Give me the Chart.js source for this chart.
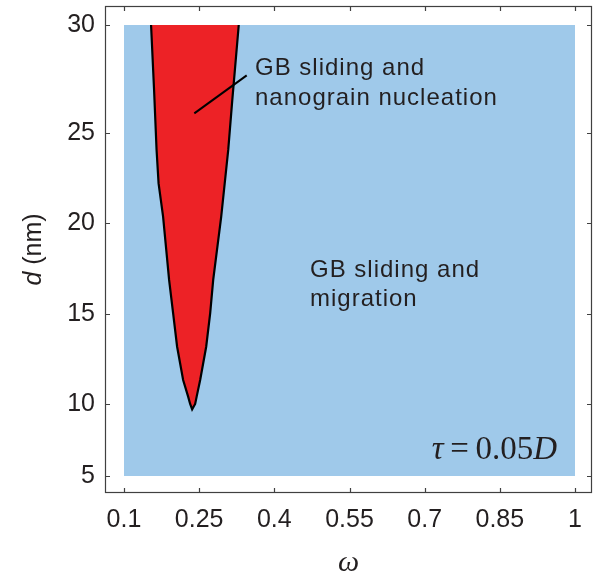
<!DOCTYPE html>
<html>
<head>
<meta charset="utf-8">
<script src="https://cdn.jsdelivr.net/npm/chart.js@4.4.1/dist/chart.umd.min.js"></script>
<style>
  html, body { margin: 0; padding: 0; background: #ffffff; }
  #wrap { width: 594px; height: 575px; position: relative; }
</style>
</head>
<body>
<div id="wrap"><canvas id="c" width="594" height="575"></canvas></div>
<script>
// ---------- data ----------
const omegaTicks = [0.1, 0.25, 0.4, 0.55, 0.7, 0.85, 1];
const dTicks = [5, 10, 15, 20, 25, 30];

// whole map region (GB sliding and migration)
const regionOmega = [0.1, 1];
const regionDTop = [30, 30];
const regionDBottom = 5;

// boundary of the nucleation region: left edge from top down to the tip, then right edge back up
const boundaryOmega = [0.154, 0.160, 0.165, 0.169, 0.178, 0.190, 0.198, 0.206, 0.218, 0.228, 0.232, 0.236,
                       0.242, 0.245, 0.252, 0.264, 0.272, 0.278, 0.294, 0.308, 0.316, 0.329];
const boundaryD     = [30, 27, 24.06, 22.2, 20.35, 16.87, 15.05, 13.18, 11.33, 10.41, 10.0, 9.63,
                       10.0, 10.41, 11.33, 13.18, 15.05, 16.87, 20.35, 24.06, 26.5, 30];

// leader line of the upper label
const leaderOmega = [0.2403, 0.3449];
const leaderD = [25.91, 27.67];

// labels
const labelUpper = ['GB sliding and', 'nanograin nucleation'];
const labelLower = ['GB sliding and', 'migration'];

// ---------- scale: tick positions of the original d axis are not evenly spaced ----------
const dAxisFrac = [0.0349, 0.1828, 0.3676, 0.5544, 0.7392, 0.9610]; // relative position of dTicks along axis

function dToFrac(v) {
  const k = dTicks, f = dAxisFrac;
  let i = 0;
  if (v <= k[0]) i = 0;
  else if (v >= k[k.length - 1]) i = k.length - 2;
  else { while (v > k[i + 1]) i++; }
  return f[i] + (v - k[i]) / (k[i + 1] - k[i]) * (f[i + 1] - f[i]);
}
function fracToD(fr) {
  const k = dTicks, f = dAxisFrac;
  let i = 0;
  if (fr <= f[0]) i = 0;
  else if (fr >= f[f.length - 1]) i = f.length - 2;
  else { while (fr > f[i + 1]) i++; }
  return k[i] + (fr - f[i]) / (f[i + 1] - f[i]) * (k[i + 1] - k[i]);
}

class PiecewiseScale extends Chart.LinearScale {
  buildTicks() { return dTicks.map(v => ({ value: v })); }
  getPixelForValue(value) {
    return this.bottom - dToFrac(value) * (this.bottom - this.top);
  }
  getValueForPixel(pixel) {
    return fracToD((this.bottom - pixel) / (this.bottom - this.top));
  }
}
PiecewiseScale.id = 'piecewise';
PiecewiseScale.defaults = Chart.LinearScale.defaults;
Chart.register(PiecewiseScale);

const TXT = '#231f20';
const SANS = '"Liberation Sans", Arial, Helvetica, sans-serif';
const SERIF = '"Liberation Serif", "Times New Roman", serif';

const decorPlugin = {
  id: 'decor',
  afterDraw(chart) {
    const { ctx, chartArea: a, scales: { x, y } } = chart;
    ctx.save();
    // frame
    ctx.strokeStyle = '#404040';
    ctx.lineWidth = 1.2;
    ctx.strokeRect(a.left + 0.5, a.top + 0.5, a.right - a.left - 1, a.bottom - a.top - 1);
    // inward ticks on all sides
    const tl = 5;
    ctx.beginPath();
    x.ticks.forEach(t => {
      const px = Math.round(x.getPixelForValue(t.value)) + 0.5;
      ctx.moveTo(px, a.bottom); ctx.lineTo(px, a.bottom - tl);
      ctx.moveTo(px, a.top); ctx.lineTo(px, a.top + tl);
    });
    y.ticks.forEach(t => {
      const py = Math.round(y.getPixelForValue(t.value)) + 0.5;
      ctx.moveTo(a.left, py); ctx.lineTo(a.left + tl, py);
      ctx.moveTo(a.right, py); ctx.lineTo(a.right - tl, py);
    });
    ctx.stroke();

    // region labels
    ctx.fillStyle = TXT;
    ctx.font = '24px ' + SANS;
    ctx.textAlign = 'left';
    ctx.textBaseline = 'alphabetic';
    try { ctx.letterSpacing = '1px'; } catch (e) {}
    const drawLines = (lines, om, ds) => {
      lines.forEach((s, i) => ctx.fillText(s, x.getPixelForValue(om), y.getPixelForValue(ds[i])));
    };
    drawLines(labelUpper, 0.3614, [27.69, 26.30]);
    drawLines(labelLower, 0.4712, [17.03, 15.44]);
    try { ctx.letterSpacing = '0px'; } catch (e) {}

    // tau = 0.05D
    const runs = [['τ', 'italic '], ['\u2009=\u2009', ''], ['0.05', ''], ['D', 'italic ']];
    const fs = 33;
    let total = 0;
    runs.forEach(r => { ctx.font = r[1] + fs + 'px ' + SERIF; total += ctx.measureText(r[0]).width; });
    let cx = x.getPixelForValue(0.964) - total;
    const by = y.getPixelForValue(6.18);
    runs.forEach(r => { ctx.font = r[1] + fs + 'px ' + SERIF; ctx.fillText(r[0], cx, by); cx += ctx.measureText(r[0]).width; });

    // x title (omega)
    ctx.font = 'italic 30px ' + SERIF;
    ctx.textAlign = 'center';
    ctx.fillText('ω', (a.left + a.right) / 2, 571);

    // y title d (nm)
    ctx.translate(41, (a.top + a.bottom) / 2);
    ctx.rotate(-Math.PI / 2);
    const p1 = 'd', p2 = ' (nm)';
    ctx.font = 'italic 25px ' + SANS; const w1 = ctx.measureText(p1).width;
    ctx.font = '25px ' + SANS; const w2 = ctx.measureText(p2).width;
    ctx.textAlign = 'left';
    ctx.font = 'italic 25px ' + SANS; ctx.fillText(p1, -(w1 + w2) / 2, 0);
    ctx.font = '25px ' + SANS; ctx.fillText(p2, -(w1 + w2) / 2 + w1, 0);
    ctx.restore();
  }
};

const toPts = (xs, ys) => xs.map((v, i) => ({ x: v, y: ys[i] }));

new Chart(document.getElementById('c'), {
  type: 'scatter',
  data: {
    datasets: [
      {
        label: 'GB sliding and migration',
        data: toPts(regionOmega, regionDTop),
        showLine: true, borderWidth: 0, pointRadius: 0,
        backgroundColor: '#9fc9ea', borderColor: 'rgba(0,0,0,0)',
        fill: { value: regionDBottom }, order: 3
      },
      {
        label: 'GB sliding and nanograin nucleation',
        data: toPts(boundaryOmega, boundaryD),
        showLine: true, borderWidth: 2.2, pointRadius: 0,
        backgroundColor: '#ed2226', borderColor: '#000000',
        fill: 'shape', order: 2, tension: 0
      },
      {
        label: 'leader',
        data: toPts(leaderOmega, leaderD),
        showLine: true, borderWidth: 2, pointRadius: 0,
        borderColor: '#000000', fill: false, order: 1
      }
    ]
  },
  options: {
    responsive: false,
    animation: false,
    events: [],
    layout: { padding: { top: 6, right: 2, left: 0, bottom: 0 } },
    plugins: { legend: { display: false }, tooltip: { enabled: false } },
    scales: {
      x: {
        type: 'linear',
        min: 0.1 - 19 / 501.1,
        max: 1 + 17 / 501.1,
        afterBuildTicks: s => { s.ticks = omegaTicks.map(v => ({ value: v })); },
        afterFit: s => { s.height = 82; s.paddingLeft = 0; s.paddingRight = 0; },
        grid: { display: false, drawTicks: false },
        border: { display: false },
        ticks: { color: TXT, font: { family: SANS, size: 25 }, padding: 12, maxRotation: 0, autoSkip: false,
                 callback: v => String(v) }
      },
      y: {
        type: 'piecewise',
        min: 5, max: 30,
        afterFit: s => { s.width = 105; s.paddingTop = 0; s.paddingBottom = 0; },
        grid: { display: false, drawTicks: false },
        border: { display: false },
        ticks: { color: TXT, font: { family: SANS, size: 25 }, padding: 10, autoSkip: false,
                 callback: v => String(v) }
      }
    }
  },
  plugins: [decorPlugin]
});
</script>
</body>
</html>
